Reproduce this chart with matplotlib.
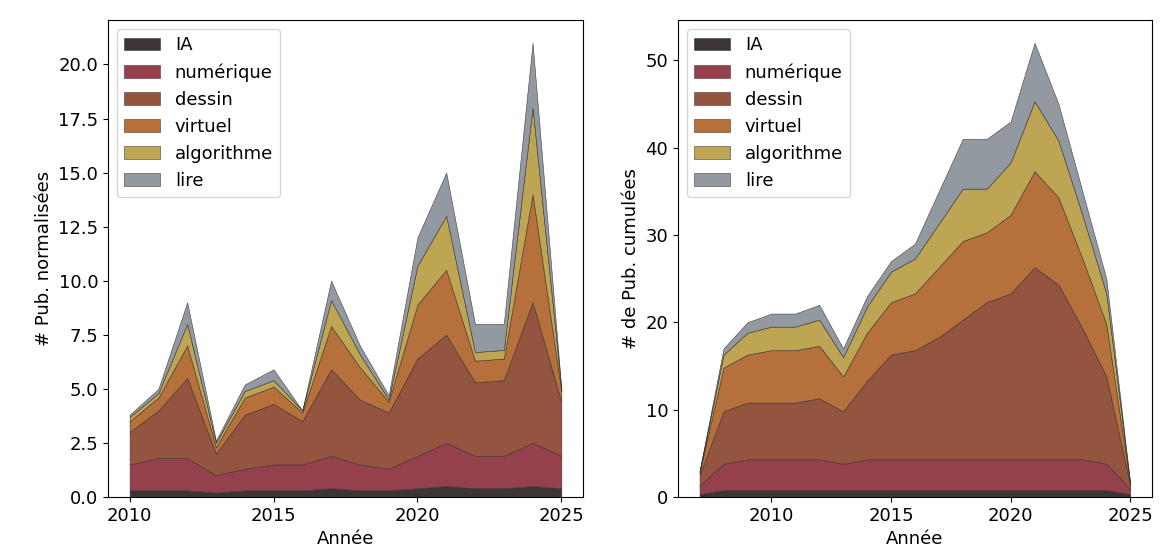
import matplotlib
matplotlib.use("Agg")
import matplotlib.pyplot as plt

plt.rcParams.update({
    'font.size': 13,
    'axes.labelsize': 13,
    'xtick.labelsize': 13,
    'ytick.labelsize': 13,
    'legend.fontsize': 13,
})

labels = ['IA', 'numérique', 'dessin', 'virtuel', 'algorithme', 'lire']
colors = ['#2a2424', '#8c2f3e', '#8a4530', '#b0642a', '#b89e45', '#8a9099']

# publications par an
years_a = list(range(2010, 2026))
ia_a = [0.3, 0.3, 0.3, 0.2, 0.3, 0.3, 0.3, 0.4, 0.3, 0.3, 0.4, 0.5, 0.4, 0.4, 0.5, 0.4]
num_a = [1.2, 1.5, 1.5, 0.8, 1.0, 1.2, 1.2, 1.5, 1.2, 1.0, 1.5, 2.0, 1.5, 1.5, 2.0, 1.5]
des_a = [1.5, 2.2, 3.7, 1.0, 2.5, 2.8, 2.0, 4.0, 3.0, 2.6, 4.5, 5.0, 3.4, 3.5, 6.5, 2.5]
vir_a = [0.5, 0.6, 1.5, 0.3, 0.8, 0.8, 0.4, 2.0, 1.5, 0.5, 2.5, 3.0, 1.0, 1.0, 5.0, 0.5]
alg_a = [0.2, 0.2, 1.0, 0.2, 0.3, 0.3, 0.1, 1.2, 0.6, 0.1, 1.8, 2.5, 0.4, 0.4, 4.0, 0.1]
lir_a = [0.1, 0.2, 1.0, 0.1, 0.3, 0.5, 0.0, 0.9, 0.4, 0.2, 1.3, 2.0, 1.3, 1.2, 3.0, 0.0]

# publications, fenêtre glissante
years_b = list(range(2007, 2026))
ia_b = [0.3, 0.8, 0.8, 0.8, 0.8, 0.8, 0.8, 0.8, 0.8, 0.8, 0.8, 0.8, 0.8, 0.8, 0.8, 0.8, 0.8, 0.8, 0.3]
num_b = [1.0, 3.0, 3.5, 3.5, 3.5, 3.5, 3.0, 3.5, 3.5, 3.5, 3.5, 3.5, 3.5, 3.5, 3.5, 3.5, 3.5, 3.0, 0.6]
des_b = [1.2, 6.0, 6.5, 6.5, 6.5, 7.0, 6.0, 9.0, 12.0, 12.5, 14.0, 16.0, 18.0, 19.0, 22.0, 20.0, 15.0, 10.0, 0.4]
vir_b = [0.3, 5.0, 5.5, 6.0, 6.0, 6.0, 4.0, 5.5, 6.0, 6.5, 8.0, 9.0, 8.0, 9.0, 11.0, 10.0, 8.0, 6.0, 0.1]
alg_b = [0.1, 1.5, 2.5, 2.7, 2.7, 3.0, 2.2, 3.0, 3.5, 4.0, 5.0, 6.0, 5.0, 6.0, 8.0, 6.5, 5.0, 3.5, 0.1]
lir_b = [0.1, 0.7, 1.2, 1.5, 1.5, 1.7, 1.0, 1.2, 1.2, 1.7, 3.7, 5.7, 5.7, 4.7, 6.7, 4.2, 2.7, 1.7, 0.0]

fig = plt.figure(figsize=(11.64, 5.59), dpi=100)
ax1 = fig.add_axes([0.0928, 0.111, 0.408, 0.853])
ax2 = fig.add_axes([0.5825, 0.111, 0.407, 0.853])

for ax, years, series in [
        (ax1, years_a, [ia_a, num_a, des_a, vir_a, alg_a, lir_a]),
        (ax2, years_b, [ia_b, num_b, des_b, vir_b, alg_b, lir_b])]:
    ax.stackplot(years, *series, labels=labels, colors=colors, alpha=0.92,
                 edgecolor='#3a3030', linewidth=0.4)
    ax.set_xlabel('Année')
    ax.set_xticks([2010, 2015, 2020, 2025])
    ax.legend(loc='upper left')

ax1.set_ylabel('# Pub. normalisées')
ax2.set_ylabel('# de Pub. cumulées')

fig.savefig('out.png', dpi=100)
